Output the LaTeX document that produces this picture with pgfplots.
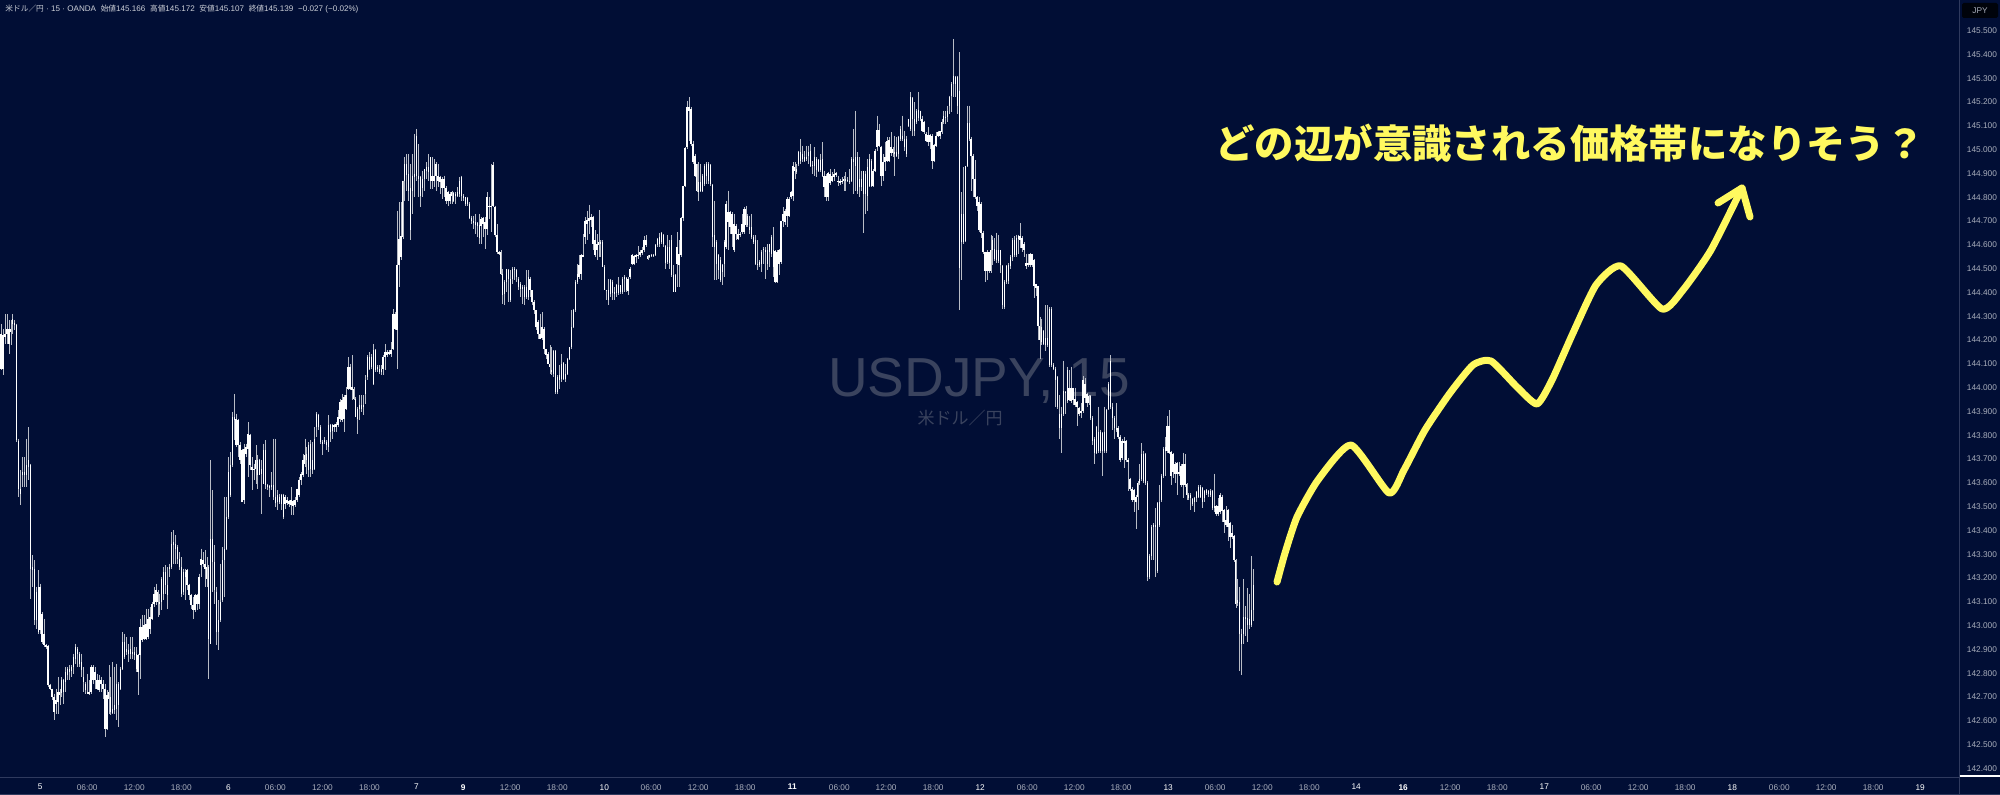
\documentclass[border=0pt]{standalone}
\usepackage{pgfplots}
\usepackage{pgfplotstable}
\usepackage{fontspec}
\pgfplotsset{compat=1.18}
\setmainfont{Liberation Sans}
\newfontfamily\cjk{Noto Sans CJK JP}
\newcommand\jj[1]{{\cjk\fontsize{3.85}{5}\selectfont #1}}
\definecolor{bg}{HTML}{010E35}
\definecolor{frame}{HTML}{2F3A5E}
\definecolor{wm}{HTML}{3A435E}
\definecolor{hand}{HTML}{FFF95F}
\definecolor{axt}{HTML}{A9AEBC}
\pgfplotstableread{
h t b l
144.268 144.226 144.079 144.072
144.247 144.219 144.079 144.051
144.310 144.226 144.212 144.184
144.310 144.247 144.226 144.184
144.282 144.247 144.184 144.142
144.282 144.247 144.233 144.177
144.310 144.289 144.268 144.226
144.282 144.271 144.265 144.240
144.268 144.265 143.778 143.771
143.785 143.775 143.575 143.540
143.652 143.575 143.554 143.505
143.708 143.645 143.631 143.582
143.708 143.645 143.631 143.582
143.785 143.673 143.631 143.582
143.834 143.694 143.666 143.610
143.680 143.673 143.239 143.113
143.295 143.246 143.235 143.162
143.274 143.239 143.022 143.001
143.162 143.141 143.022 142.987
143.232 143.162 142.973 142.966
143.176 143.162 142.980 142.966
143.057 143.050 142.931 142.924
143.029 142.966 142.917 142.910
142.924 142.917 142.910 142.903
142.917 142.913 142.749 142.742
142.756 142.749 142.735 142.728
142.735 142.735 142.700 142.686
142.714 142.700 142.637 142.602
142.735 142.686 142.672 142.630
142.784 142.721 142.679 142.630
142.735 142.721 142.707 142.665
142.784 142.770 142.717 142.700
142.777 142.770 142.721 142.672
142.826 142.805 142.763 142.721
142.826 142.819 142.791 142.770
142.833 142.819 142.805 142.770
142.833 142.826 142.809 142.784
142.882 142.868 142.826 142.798
142.924 142.910 142.861 142.840
142.910 142.903 142.882 142.826
142.889 142.882 142.840 142.826
142.882 142.847 142.812 142.784
142.826 142.784 142.763 142.721
142.763 142.756 142.728 142.714
142.798 142.721 142.714 142.711
142.770 142.721 142.711 142.707
142.833 142.826 142.721 142.714
142.833 142.826 142.770 142.756
142.826 142.805 142.770 142.735
142.798 142.770 142.735 142.728
142.791 142.770 142.731 142.721
142.784 142.770 142.756 142.721
142.770 142.756 142.735 142.693
142.756 142.735 142.567 142.532
142.728 142.707 142.567 142.560
142.833 142.721 142.693 142.630
142.784 142.700 142.637 142.623
142.847 142.651 142.633 142.630
142.826 142.665 142.644 142.630
142.840 142.756 142.651 142.602
142.763 142.756 142.665 142.574
142.826 142.819 142.735 142.728
142.973 142.931 142.819 142.812
142.966 142.931 142.868 142.861
142.952 142.903 142.889 142.875
142.924 142.896 142.882 142.847
142.952 142.903 142.882 142.861
142.952 142.889 142.882 142.861
142.910 142.889 142.875 142.854
142.910 142.882 142.819 142.805
142.882 142.875 142.805 142.707
143.029 142.994 142.875 142.777
143.043 142.994 142.938 142.931
143.043 143.001 142.945 142.938
143.071 143.008 142.945 142.938
143.071 143.029 142.952 142.945
143.078 143.036 142.987 142.966
143.099 143.092 143.029 143.022
143.162 143.134 143.089 143.078
143.176 143.148 143.099 143.085
143.148 143.141 143.099 143.036
143.134 143.099 143.092 143.043
143.204 143.197 143.099 143.064
143.246 143.225 143.134 143.106
143.253 143.225 143.169 143.134
143.246 143.169 143.127 143.071
143.260 143.246 143.239 143.204
143.393 143.344 143.246 143.239
143.400 143.351 143.337 143.260
143.379 143.344 143.323 143.260
143.337 143.330 143.281 143.260
143.309 143.281 143.246 143.232
143.288 143.246 143.134 143.120
143.239 143.225 143.141 143.127
143.239 143.225 143.204 143.106
143.239 143.232 143.169 143.148
143.176 143.169 143.127 143.106
143.134 143.127 143.085 143.071
143.120 143.085 143.064 143.029
143.134 143.127 143.064 143.057
143.134 143.127 143.092 143.064
143.218 143.204 143.092 143.071
143.323 143.281 143.253 143.204
143.309 143.274 143.260 143.246
143.316 143.260 143.239 143.162
143.288 143.246 143.197 143.162
143.253 143.246 142.945 142.777
143.694 143.365 142.924 142.924
143.568 143.365 143.267 143.141
143.337 143.267 143.148 143.092
143.162 143.141 142.973 142.917
143.106 143.022 142.973 142.896
143.260 143.099 143.022 143.015
143.330 143.274 143.106 143.099
143.540 143.323 143.274 143.120
143.540 143.456 143.323 143.316
143.708 143.645 143.456 143.449
143.729 143.673 143.547 143.540
143.897 143.876 143.673 143.666
143.974 143.876 143.862 143.778
143.890 143.869 143.757 143.750
143.869 143.862 143.757 143.708
143.771 143.757 143.694 143.680
143.743 143.736 143.519 143.519
143.764 143.743 143.526 143.512
143.764 143.750 143.722 143.708
143.855 143.806 143.743 143.624
143.806 143.799 143.673 143.652
143.708 143.666 143.652 143.568
143.680 143.659 143.652 143.610
143.757 143.694 143.659 143.596
143.715 143.694 143.631 143.575
143.701 143.694 143.631 143.631
143.694 143.659 143.638 143.470
143.764 143.736 143.596 143.596
143.778 143.736 143.589 143.575
143.596 143.589 143.582 143.568
143.589 143.585 143.579 143.540
143.645 143.589 143.582 143.568
143.785 143.589 143.540 143.526
143.785 143.540 143.515 143.498
143.568 143.547 143.519 143.484
143.554 143.540 143.519 143.512
143.554 143.547 143.512 143.484
143.554 143.547 143.456 143.449
143.547 143.540 143.512 143.491
143.540 143.526 143.515 143.505
143.526 143.523 143.509 143.498
143.582 143.526 143.505 143.463
143.526 143.523 143.501 143.463
143.540 143.526 143.505 143.498
143.575 143.575 143.526 143.519
143.624 143.610 143.547 143.540
143.645 143.638 143.610 143.589
143.722 143.694 143.631 143.624
143.785 143.715 143.680 143.666
143.750 143.722 143.694 143.638
143.771 143.757 143.652 143.624
143.778 143.764 143.659 143.624
143.771 143.694 143.652 143.638
143.834 143.785 143.659 143.652
143.897 143.890 143.834 143.792
143.890 143.883 143.834 143.820
143.841 143.834 143.771 143.764
143.778 143.771 143.764 143.715
143.792 143.778 143.771 143.764
143.778 143.771 143.757 143.736
143.883 143.841 143.750 143.729
143.848 143.841 143.813 143.771
143.848 143.841 143.816 143.785
143.848 143.841 143.834 143.813
143.855 143.848 143.834 143.813
143.904 143.876 143.841 143.834
143.953 143.939 143.869 143.855
143.974 143.946 143.862 143.855
143.967 143.960 143.869 143.813
144.002 143.967 143.911 143.904
144.128 144.086 143.995 143.988
144.100 144.086 143.995 143.988
144.135 144.002 143.991 143.946
144.002 143.995 143.953 143.946
143.960 143.953 143.876 143.876
143.918 143.911 143.869 143.806
143.967 143.925 143.911 143.862
143.967 143.925 143.911 143.897
143.967 143.925 143.918 143.883
144.051 144.030 143.974 143.932
144.135 144.128 144.044 144.030
144.149 144.128 144.079 144.072
144.142 144.128 144.086 144.079
144.184 144.156 144.016 144.009
144.163 144.156 144.072 144.065
144.093 144.086 144.079 144.065
144.093 144.079 144.065 144.058
144.093 144.079 144.065 144.051
144.135 144.128 144.079 144.051
144.184 144.149 144.128 144.072
144.156 144.149 144.135 144.128
144.156 144.149 144.142 144.135
144.191 144.156 144.142 144.128
144.331 144.310 144.163 144.156
144.317 144.310 144.247 144.240
144.744 144.513 144.240 144.079
144.779 144.625 144.513 144.422
144.779 144.635 144.548 144.534
144.870 144.870 144.632 144.625
144.968 144.940 144.870 144.786
144.982 144.940 144.895 144.828
144.982 144.898 144.828 144.786
144.940 144.839 144.660 144.618
144.982 144.891 144.825 144.730
145.066 144.898 144.884 144.800
145.087 145.059 144.891 144.870
145.024 144.891 144.877 144.800
144.891 144.884 144.803 144.758
144.912 144.877 144.839 144.800
144.919 144.919 144.877 144.828
144.947 144.926 144.912 144.877
144.982 144.926 144.905 144.870
144.968 144.968 144.870 144.835
144.968 144.891 144.870 144.835
144.961 144.891 144.870 144.842
144.947 144.940 144.887 144.828
144.940 144.891 144.870 144.842
144.891 144.884 144.863 144.814
144.884 144.877 144.839 144.793
144.891 144.877 144.839 144.800
144.845 144.839 144.786 144.772
144.828 144.821 144.786 144.765
144.821 144.814 144.786 144.772
144.828 144.821 144.807 144.772
144.821 144.817 144.786 144.779
144.821 144.814 144.807 144.772
144.842 144.821 144.807 144.800
144.884 144.870 144.814 144.800
144.891 144.884 144.807 144.786
144.814 144.807 144.797 144.786
144.800 144.800 144.772 144.765
144.800 144.797 144.772 144.765
144.779 144.772 144.713 144.709
144.723 144.713 144.702 144.688
144.723 144.702 144.691 144.667
144.730 144.695 144.685 144.646
144.695 144.691 144.681 144.632
144.730 144.685 144.629 144.604
144.716 144.709 144.681 144.604
144.716 144.713 144.688 144.632
144.716 144.695 144.667 144.583
144.821 144.800 144.667 144.639
144.800 144.765 144.761 144.709
144.940 144.765 144.758 144.653
144.947 144.937 144.765 144.758
144.765 144.758 144.639 144.632
144.688 144.639 144.569 144.562
144.573 144.569 144.562 144.555
144.576 144.569 144.478 144.471
144.499 144.478 144.387 144.352
144.450 144.443 144.394 144.345
144.499 144.499 144.443 144.401
144.499 144.492 144.457 144.359
144.492 144.457 144.366 144.359
144.506 144.499 144.457 144.436
144.506 144.499 144.492 144.450
144.499 144.492 144.464 144.443
144.464 144.457 144.422 144.408
144.443 144.436 144.415 144.380
144.429 144.422 144.415 144.352
144.429 144.422 144.380 144.349
144.492 144.422 144.380 144.373
144.492 144.464 144.380 144.366
144.464 144.457 144.408 144.380
144.408 144.408 144.359 144.345
144.366 144.359 144.324 144.310
144.324 144.324 144.254 144.240
144.282 144.275 144.226 144.205
144.310 144.226 144.205 144.205
144.317 144.254 144.209 144.198
144.254 144.247 144.163 144.142
144.163 144.163 144.135 144.121
144.149 144.142 144.100 144.100
144.177 144.100 144.086 144.058
144.170 144.072 144.065 144.051
144.156 144.153 144.058 144.044
144.156 144.153 143.981 143.974
144.051 144.044 143.981 143.971
144.093 144.051 144.030 143.995
144.142 144.100 144.037 144.023
144.107 144.103 144.037 144.030
144.100 144.058 144.037 144.023
144.125 144.121 144.058 144.051
144.170 144.170 144.121 144.114
144.324 144.254 144.170 144.163
144.331 144.324 144.254 144.251
144.450 144.443 144.324 144.317
144.520 144.478 144.443 144.436
144.555 144.513 144.464 144.457
144.562 144.555 144.478 144.450
144.646 144.555 144.548 144.548
144.716 144.699 144.632 144.604
144.744 144.705 144.688 144.618
144.769 144.713 144.699 144.646
144.730 144.716 144.705 144.674
144.723 144.716 144.604 144.576
144.660 144.618 144.555 144.548
144.646 144.604 144.576 144.534
144.747 144.611 144.601 144.548
144.618 144.611 144.604 144.548
144.618 144.611 144.506 144.506
144.513 144.506 144.411 144.408
144.411 144.411 144.408 144.366
144.457 144.408 144.369 144.345
144.457 144.450 144.394 144.380
144.450 144.443 144.397 144.366
144.422 144.401 144.394 144.366
144.436 144.429 144.397 144.380
144.464 144.433 144.397 144.387
144.429 144.429 144.401 144.394
144.464 144.457 144.401 144.394
144.471 144.464 144.457 144.401
144.464 144.461 144.408 144.401
144.464 144.457 144.405 144.387
144.506 144.499 144.464 144.457
144.562 144.555 144.520 144.513
144.555 144.551 144.520 144.517
144.562 144.555 144.548 144.523
144.593 144.559 144.551 144.541
144.576 144.569 144.555 144.548
144.590 144.576 144.565 144.555
144.635 144.618 144.576 144.569
144.639 144.621 144.597 144.590
144.555 144.551 144.541 144.537
144.559 144.555 144.548 144.545
144.562 144.559 144.552 144.548
144.562 144.559 144.555 144.548
144.604 144.601 144.555 144.551
144.629 144.625 144.597 144.590
144.649 144.632 144.604 144.590
144.653 144.649 144.611 144.604
144.646 144.639 144.604 144.590
144.597 144.593 144.523 144.499
144.639 144.590 144.527 144.520
144.621 144.590 144.523 144.499
144.639 144.618 144.471 144.464
144.513 144.471 144.401 144.401
144.478 144.471 144.401 144.401
144.653 144.590 144.520 144.422
144.618 144.562 144.513 144.422
144.716 144.713 144.555 144.548
144.849 144.845 144.713 144.702
145.010 145.007 144.849 144.842
145.206 145.178 145.010 145.003
145.220 145.178 145.164 145.038
145.178 145.171 145.024 145.017
145.038 145.024 144.947 144.940
144.982 144.975 144.891 144.884
144.940 144.940 144.828 144.821
144.947 144.863 144.821 144.786
144.940 144.863 144.825 144.821
144.898 144.891 144.825 144.821
144.940 144.933 144.856 144.849
144.947 144.940 144.891 144.856
144.947 144.940 144.870 144.856
144.940 144.937 144.856 144.849
144.856 144.853 144.632 144.590
144.786 144.639 144.590 144.450
144.618 144.611 144.520 144.450
144.562 144.555 144.492 144.457
144.548 144.534 144.450 144.443
144.520 144.517 144.485 144.429
144.618 144.611 144.520 144.464
144.786 144.772 144.590 144.583
144.828 144.737 144.695 144.576
144.744 144.737 144.674 144.646
144.737 144.730 144.646 144.590
144.730 144.688 144.576 144.569
144.688 144.681 144.646 144.618
144.667 144.646 144.625 144.618
144.653 144.646 144.639 144.632
144.730 144.688 144.653 144.646
144.758 144.751 144.653 144.646
144.765 144.751 144.681 144.674
144.730 144.723 144.681 144.674
144.723 144.674 144.660 144.646
144.730 144.674 144.632 144.625
144.639 144.632 144.611 144.604
144.639 144.618 144.520 144.513
144.618 144.520 144.513 144.492
144.534 144.527 144.513 144.506
144.576 144.569 144.520 144.485
144.590 144.583 144.576 144.520
144.590 144.576 144.569 144.457
144.604 144.576 144.520 144.492
144.604 144.604 144.569 144.506
144.639 144.632 144.562 144.548
144.674 144.576 144.506 144.464
144.576 144.573 144.443 144.439
144.576 144.569 144.443 144.439
144.583 144.576 144.520 144.471
144.702 144.699 144.527 144.520
144.758 144.730 144.702 144.674
144.751 144.744 144.695 144.681
144.800 144.793 144.723 144.674
144.800 144.793 144.723 144.716
144.828 144.821 144.800 144.793
144.947 144.933 144.807 144.786
144.947 144.926 144.912 144.877
144.940 144.919 144.905 144.898
144.996 144.989 144.940 144.933
145.045 144.989 144.954 144.940
145.017 144.982 144.961 144.947
144.996 144.968 144.954 144.947
145.017 144.968 144.961 144.954
145.017 144.989 144.975 144.940
145.024 144.996 144.933 144.926
144.954 144.937 144.929 144.898
145.010 144.968 144.933 144.891
144.968 144.961 144.915 144.884
144.961 144.957 144.912 144.905
144.982 144.957 144.915 144.905
145.031 144.961 144.891 144.884
144.912 144.891 144.842 144.800
144.898 144.891 144.800 144.783
144.905 144.901 144.800 144.786
144.919 144.898 144.859 144.853
144.905 144.891 144.870 144.863
144.919 144.898 144.884 144.870
144.905 144.901 144.895 144.884
144.891 144.867 144.863 144.849
144.877 144.867 144.859 144.853
144.884 144.870 144.863 144.856
144.891 144.877 144.867 144.828
144.905 144.877 144.870 144.828
144.884 144.873 144.867 144.863
144.919 144.870 144.863 144.856
144.968 144.961 144.870 144.863
145.087 144.961 144.947 144.814
145.164 144.968 144.933 144.828
144.989 144.968 144.828 144.814
144.968 144.877 144.842 144.800
144.912 144.877 144.842 144.828
144.912 144.912 144.814 144.649
144.912 144.898 144.814 144.730
144.961 144.926 144.807 144.744
144.982 144.961 144.849 144.842
144.961 144.954 144.849 144.842
144.919 144.912 144.849 144.842
145.003 144.996 144.912 144.905
145.143 145.083 145.010 144.996
145.108 145.083 145.017 145.010
145.017 145.010 144.891 144.849
144.982 144.947 144.891 144.870
145.031 144.968 144.947 144.912
145.052 145.038 144.954 144.947
145.052 145.041 144.954 144.947
145.073 145.010 144.985 144.975
145.010 145.003 144.985 144.968
145.059 144.989 144.982 144.891
145.052 144.989 144.975 144.968
145.059 145.052 144.982 144.961
145.101 145.087 145.045 145.038
145.143 145.059 145.045 145.038
145.080 145.045 145.010 144.996
145.059 145.045 144.982 144.968
145.129 145.129 145.101 145.094
145.241 145.220 145.087 145.080
145.220 145.217 145.129 145.059
145.199 145.129 145.080 145.059
145.171 145.164 145.115 145.108
145.241 145.167 145.133 145.122
145.164 145.164 145.129 145.122
145.143 145.129 145.080 145.073
145.122 145.115 145.073 145.066
145.073 145.066 145.038 145.031
145.094 145.063 145.031 145.017
145.066 145.063 145.031 145.003
145.066 145.059 144.954 144.919
145.024 145.021 144.954 144.947
145.073 145.059 145.017 145.010
145.080 145.073 145.059 145.052
145.080 145.077 145.055 145.045
145.129 145.115 145.073 145.066
145.164 145.143 145.115 145.108
145.164 145.139 145.133 145.108
145.185 145.164 145.136 145.115
145.227 145.220 145.185 145.150
145.283 145.276 145.227 145.157
145.465 145.311 145.276 145.220
145.311 145.307 145.276 145.220
145.311 145.307 145.185 145.150
145.409 145.248 144.503 144.324
144.821 144.730 144.611 144.450
144.926 144.730 144.611 144.604
144.933 144.929 144.615 144.611
145.185 145.111 144.933 144.926
145.185 145.111 145.045 145.038
145.052 145.045 144.975 144.828
144.982 144.975 144.877 144.800
144.957 144.877 144.800 144.793
144.803 144.800 144.765 144.744
144.800 144.779 144.660 144.653
144.780 144.772 144.651 144.627
144.659 144.651 144.571 144.563
144.571 144.569 144.490 144.442
144.579 144.571 144.490 144.450
144.571 144.569 144.490 144.482
144.643 144.576 144.490 144.482
144.635 144.619 144.579 144.515
144.627 144.582 144.539 144.531
144.651 144.579 144.534 144.523
144.643 144.576 144.531 144.523
144.579 144.576 144.515 144.482
144.515 144.511 144.346 144.330
144.450 144.442 144.338 144.330
144.515 144.511 144.442 144.434
144.523 144.515 144.447 144.437
144.555 144.547 144.511 144.498
144.627 144.619 144.547 144.531
144.635 144.619 144.555 144.547
144.643 144.630 144.555 144.547
144.643 144.635 144.624 144.563
144.691 144.635 144.619 144.587
144.635 144.630 144.587 144.571
144.611 144.603 144.579 144.547
144.563 144.523 144.511 144.498
144.563 144.523 144.515 144.507
144.566 144.560 144.515 144.507
144.563 144.560 144.515 144.507
144.539 144.534 144.426 144.378
144.437 144.434 144.418 144.386
144.426 144.425 144.257 144.201
144.297 144.257 144.201 144.121
144.289 144.254 144.190 144.177
144.241 144.238 144.185 144.177
144.346 144.209 144.177 144.153
144.346 144.209 144.177 144.169
144.338 144.330 144.096 144.088
144.338 144.330 144.096 144.088
144.104 144.096 144.080 144.072
144.088 144.080 144.032 143.920
144.048 144.045 143.920 143.912
143.968 143.887 143.831 143.783
143.920 143.887 143.831 143.727
144.113 143.984 143.887 143.879
143.984 143.981 143.976 143.887
144.088 144.072 143.944 143.936
144.072 144.000 143.949 143.944
144.088 144.000 143.944 143.936
144.000 143.997 143.949 143.928
144.000 143.952 143.928 143.920
143.944 143.939 143.920 143.839
143.920 143.916 143.891 143.879
143.936 143.903 143.895 143.871
144.048 144.032 143.900 143.895
144.040 144.016 143.955 143.936
143.976 143.971 143.936 143.920
143.968 143.965 143.936 143.928
143.968 143.965 143.871 143.863
143.879 143.871 143.775 143.759
143.791 143.783 143.727 143.678
143.839 143.836 143.727 143.719
143.920 143.815 143.735 143.727
143.823 143.815 143.735 143.727
143.815 143.810 143.735 143.630
143.920 143.815 143.735 143.727
143.912 143.907 143.735 143.727
144.024 144.016 143.912 143.904
144.137 144.113 143.920 143.912
143.936 143.920 143.871 143.823
143.879 143.871 143.831 143.783
143.936 143.831 143.823 143.815
143.839 143.831 143.791 143.783
143.799 143.791 143.694 143.686
143.783 143.775 143.702 143.694
143.791 143.775 143.767 143.662
143.778 143.775 143.694 143.686
143.702 143.694 143.686 143.566
143.622 143.614 143.574 143.566
143.582 143.574 143.526 143.518
143.574 143.569 143.526 143.477
143.550 143.542 143.518 143.405
143.606 143.598 143.542 143.485
143.678 143.614 143.598 143.590
143.767 143.719 143.614 143.606
143.735 143.719 143.606 143.598
143.727 143.719 143.598 143.590
143.606 143.598 143.204 143.188
143.301 143.292 143.204 143.196
143.421 143.413 143.292 143.276
143.429 143.421 143.413 143.276
143.493 143.421 143.413 143.204
143.518 143.514 143.228 143.220
143.590 143.518 143.421 143.413
143.638 143.630 143.526 143.518
143.751 143.743 143.630 143.622
143.791 143.751 143.735 143.630
143.879 143.839 143.735 143.727
143.904 143.839 143.727 143.719
143.735 143.730 143.630 143.590
143.727 143.719 143.646 143.622
143.686 143.678 143.638 143.598
143.686 143.682 143.638 143.550
143.686 143.646 143.638 143.630
143.678 143.670 143.590 143.582
143.727 143.678 143.590 143.534
143.719 143.678 143.590 143.582
143.598 143.595 143.550 143.526
143.558 143.550 143.534 143.526
143.558 143.547 143.534 143.485
143.534 143.530 143.510 143.501
143.542 143.534 143.518 143.477
143.566 143.563 143.534 143.518
143.590 143.582 143.542 143.534
143.590 143.582 143.542 143.534
143.582 143.579 143.518 143.493
143.569 143.566 143.534 143.518
143.574 143.569 143.558 143.550
143.569 143.566 143.553 143.542
143.574 143.566 143.550 143.542
143.569 143.566 143.493 143.485
143.638 143.501 143.493 143.477
143.505 143.501 143.469 143.461
143.534 143.501 143.469 143.461
143.558 143.550 143.477 143.469
143.550 143.542 143.482 143.437
143.489 143.485 143.437 143.389
143.501 143.445 143.421 143.413
143.489 143.485 143.413 143.357
143.437 143.429 143.373 143.325
143.421 143.389 143.373 143.365
143.381 143.378 143.276 143.268
143.280 143.276 143.091 143.075
143.196 143.108 143.096 143.083
143.164 143.100 142.963 142.810
142.987 142.963 142.923 142.794
143.196 143.035 142.963 142.923
143.083 143.035 143.027 142.955
143.156 143.032 143.003 142.931
143.132 143.027 143.003 142.987
143.292 143.067 143.003 142.995
143.236 143.172 143.067 143.019
}\candles
\begin{document}
\begin{tikzpicture}[x=1pt,y=1pt]
\path[use as bounding box] (0,0) rectangle (1000,397.5);
\fill[bg] (0,0) rectangle (1000,397.5);
% watermark
\node[text=wm,font=\fontsize{27.5}{30}\selectfont,anchor=center] at (489.5,207) {USDJPY, 15};
\node[text=wm,font=\cjk\fontsize{8.5}{10}\selectfont,anchor=center] at (480,188.5) {米ドル／円};
\begin{axis}[
  at={(0,7.3)},anchor=south west,scale only axis,
  width=979.5pt,height=388.5pt,
  xmin=-0.5,xmax=999,ymin=142.361,ymax=145.626,
  axis x line*=bottom,axis y line*=right,
  axis line style={draw=frame,line width=0.5pt,-},
  tick style={draw=none},
  ytick={142.4,142.5,142.6,142.7,142.8,142.9,143.0,143.1,143.2,143.3,143.4,143.5,143.6,143.7,143.8,143.9,144.0,144.1,144.2,144.3,144.4,144.5,144.6,144.7,144.8,144.9,145.0,145.1,145.2,145.3,145.4,145.5},
  yticklabel style={/pgf/number format/.cd,fixed,fixed zerofill,precision=3,assume math mode=true,1000 sep={},/tikz/.cd,text=axt,font=\fontsize{4.15}{5}\selectfont,xshift=0.4pt},
  xtick={20,44,68,92,116,140,164,188,212,235.8,259.8,283.8,307.8,331.7,355.7,379.7,403.7,427.7,451.6,475.6,499.6,523.6,547.6,571.5,595.5,619.5,643.5,667.5,691.4,715.4,739.4,763.4,787.4,811.3,835.3,859.3,883.3,907.3,931.2,955.2,979.2},
  xticklabels={\textcolor{white}{5},06:00,12:00,18:00,\textcolor{white}{6},06:00,12:00,18:00,\textcolor{white}{7},\textcolor{white}{\bfseries 9},12:00,18:00,\textcolor{white}{10},06:00,12:00,18:00,\textcolor{white}{\bfseries 11},06:00,12:00,18:00,\textcolor{white}{12},06:00,12:00,18:00,\textcolor{white}{13},06:00,12:00,18:00,\textcolor{white}{14},\textcolor{white}{\bfseries 16},12:00,18:00,\textcolor{white}{17},06:00,12:00,18:00,\textcolor{white}{18},06:00,12:00,18:00,\textcolor{white}{19}},
  xticklabel style={text=axt,font=\fontsize{4.15}{5}\selectfont,yshift=0.2pt},
  clip=true,
]
\addplot[forget plot,draw=none,mark=none,
  error bars/.cd,y dir=both,y explicit,error mark=none,
  error bar style={solid,line width=0.28pt,draw=white!72!bg}]
  table[x expr=\coordindex,y=h,y error plus expr=0,y error minus expr=\thisrow{h}-\thisrow{l}] {\candles};
\addplot[forget plot,draw=none,mark=none,
  error bars/.cd,y dir=both,y explicit,error mark=none,
  error bar style={solid,line width=0.7pt,draw=white}]
  table[x expr=\coordindex,y=t,y error plus expr=0,y error minus expr=\thisrow{t}-\thisrow{b}] {\candles};
\end{axis}
% lower frame line, price scale
\draw[frame,line width=0.5pt] (979.6,0) -- (979.6,397.5);
\draw[frame,line width=0.5pt] (0,0.4) -- (1000,0.4);
\draw[white,line width=0.7pt] (979.8,9.4) -- (1000,9.4);
\fill[rounded corners=0.8pt,fill=black!80!bg] (981,388.5) rectangle (999,396);
\node[text=axt,font=\fontsize{4.15}{5}\selectfont] at (990,392.3) {JPY};
% header
\node[anchor=west,inner sep=0pt,text=white!80!bg,font=\fontsize{4.05}{5}\selectfont] at (2.5,393) {\jj{米ドル／円} · 15 · OANDA\hspace{1.2pt} \jj{始値}145.166\hspace{1.2pt} \jj{高値}145.172\hspace{1.2pt} \jj{安値}145.107\hspace{1.2pt} \jj{終値}145.139\hspace{1.2pt} −0.027 (−0.02\%)};
% handwritten annotation
\node[text=hand,font=\cjk\bfseries\fontsize{19.7}{22}\selectfont,anchor=center,inner sep=0pt] at (785,325.8) {どの辺が意識される価格帯になりそう？};
\begin{scope}[x=0.5pt,y=-0.5pt,shift={(0,397.5pt)}]
\draw[hand,line width=3.5pt,line cap=round,line join=round] plot[smooth,tension=0.35] coordinates {(1277,582)(1285,553)(1297,517)(1318,480)(1351,445)(1389,493)(1404,470)(1425,430)(1450,393)(1473,365)(1491,361)(1517,387)(1537,404)(1552,380)(1573,333)(1596,285)(1621,266)(1662,309)(1683,290)(1711,250)(1742,188)};
\draw[hand,line width=3.5pt,line cap=round,line join=round] (1718,203) -- (1742,188) -- (1750,217);
\end{scope}
\end{tikzpicture}
\end{document}
